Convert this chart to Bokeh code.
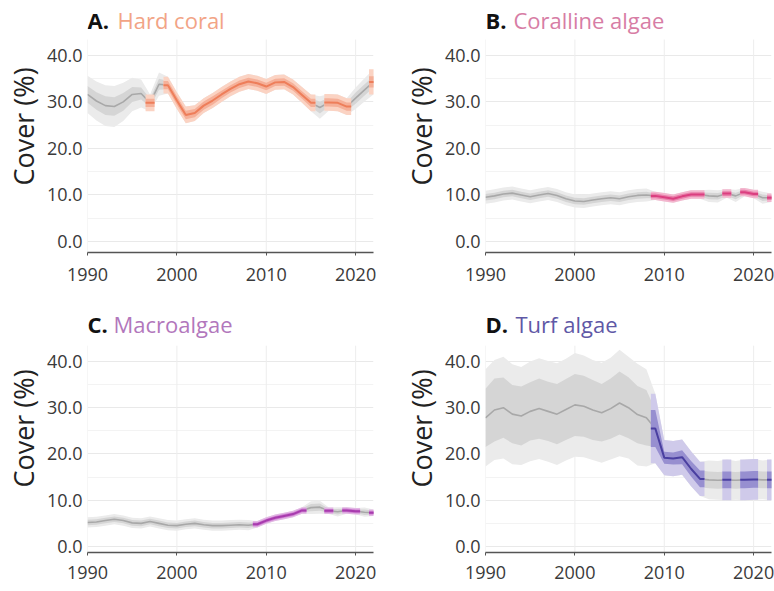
from bokeh.plotting import figure
from bokeh.layouts import column, row
from bokeh.models import FixedTicker, NumeralTickFormatter, Range1d
from bokeh.core.properties import value
from bokeh.embed import file_html
from bokeh.resources import INLINE

years = list(range(1990, 2023))

# ---- A. Hard coral ----
coral_mean = [31.6, 30.2, 29.2, 29.0, 30.0, 31.6, 31.8, 29.8, 33.8, 33.6, 30.3, 27.2, 27.6,
              29.2, 30.3, 31.6, 32.8, 33.8, 34.4, 34.0, 33.3, 34.2, 34.3, 33.2, 31.5, 29.8,
              28.8, 29.9, 29.8, 29.0, 30.8, 32.6, 34.3]
coral_inner = [1.8, 1.9, 2.0, 2.0, 1.9, 1.6, 1.3, 0.9, 1.2, 0.9, 0.9, 0.9, 0.9, 0.9, 0.9, 0.8,
               0.8, 0.8, 0.8, 0.8, 0.8, 0.8, 0.8, 0.8, 0.8, 0.9, 1.3, 0.9, 0.9, 0.9, 1.2, 1.2, 1.2]
coral_outer = [4.0, 4.2, 4.4, 4.4, 4.1, 3.6, 3.0, 1.8, 2.5, 1.8, 1.8, 1.8, 1.7, 1.6, 1.6, 1.6,
               1.6, 1.6, 1.6, 1.6, 1.6, 1.6, 1.6, 1.6, 1.7, 1.8, 2.4, 1.8, 1.8, 1.8, 2.3, 2.5, 2.7]
coral_data_years = [1997] + list(range(1999, 2016)) + [2017, 2018, 2019, 2022]

# ---- B. Coralline algae ----
cca_mean = [9.5, 9.8, 10.2, 10.4, 10.0, 9.6, 10.0, 10.3, 9.9, 9.2, 8.7, 8.6, 8.9, 9.2, 9.4,
            9.2, 9.6, 9.9, 10.0, 9.8, 9.5, 9.2, 9.7, 10.1, 10.1, 9.8, 9.7, 10.3, 9.8, 10.6,
            10.2, 9.4, 9.4]
cca_inner = [0.7] * 19 + [0.5] * 6 + [0.7, 0.7, 0.5, 0.7, 0.5, 0.5, 0.7, 0.5]
cca_outer = [1.4] * 19 + [0.9] * 6 + [1.3, 1.3, 0.9, 1.3, 0.9, 0.9, 1.3, 0.9]
cca_data_years = list(range(2009, 2015)) + [2017, 2019, 2020, 2022]

# ---- C. Macroalgae ----
macro_mean = [5.2, 5.3, 5.6, 5.9, 5.6, 5.1, 5.0, 5.4, 5.0, 4.6, 4.5, 4.8, 5.0, 4.7, 4.5,
              4.5, 4.6, 4.7, 4.6, 4.8, 5.6, 6.2, 6.6, 7.0, 7.8, 8.4, 8.5, 7.7, 7.5, 7.8,
              7.6, 7.4, 7.3]
macro_inner = [0.6] * 19 + [0.4] * 6 + [0.8, 0.8, 0.4, 0.6, 0.4, 0.4, 0.6, 0.4]
macro_outer = [1.1] * 19 + [0.7] * 6 + [1.4, 1.4, 0.7, 1.0, 0.7, 0.7, 1.0, 0.7]
macro_data_years = list(range(2009, 2015)) + [2017, 2019, 2020, 2022]

# ---- D. Turf algae ----
turf_mean = [27.8, 29.5, 30.0, 28.6, 28.2, 29.2, 29.8, 29.2, 28.6, 29.6, 30.6, 30.3, 29.5,
             28.9, 29.8, 31.0, 30.0, 28.5, 27.8, 25.5, 19.2, 19.0, 19.3, 16.8, 14.6, 14.4,
             14.3, 14.4, 14.3, 14.4, 14.5, 14.4, 14.4]
turf_inner = [6.3, 6.8, 6.5, 6.3, 6.4, 6.3, 6.5, 6.4, 6.5, 6.6, 6.7, 6.6, 6.5, 6.2, 6.5,
              6.8, 6.6, 6.2, 6.0, 4.0, 1.3, 1.3, 1.5, 1.7, 1.8, 1.8, 1.8, 1.8, 1.8, 1.8,
              1.8, 1.8, 1.8]
turf_outer = [10.5, 10.8, 11.0, 10.8, 10.6, 10.8, 10.9, 10.9, 11.0, 11.0, 11.2, 11.0, 10.8,
              10.8, 11.0, 11.5, 11.0, 11.0, 10.5, 7.5, 3.8, 3.8, 3.8, 3.8, 3.7, 4.2, 4.2,
              4.4, 4.2, 4.4, 4.4, 4.2, 4.4]
turf_data_years = list(range(2009, 2015)) + [2017, 2019, 2020, 2022]

y_ticks = [0, 10, 20, 30, 40]
y_minor = [5, 15, 25, 35]
x_ticks = [1990, 2000, 2010, 2020]

FONT = "Open Sans"
GRAY = {"outer": "#EBEBEB", "inner": "#D5D5D5", "line": "#A8A8A8"}


def runs(yrs):
    groups, cur = [], [yrs[0]]
    for y in yrs[1:]:
        if y == cur[-1] + 1:
            cur.append(y)
        else:
            groups.append(cur)
            cur = [y]
    groups.append(cur)
    return groups


def make_panel(letter, name, mean, inner, outer, data_years, cols, title_color,
               name_dx, ylo, yhi, title_y, frame_h, border_bottom, border_right, x_standoff):
    p = figure(frame_width=286, frame_height=frame_h,
               x_range=Range1d(1990, 2022), y_range=Range1d(ylo, yhi),
               output_backend="svg", toolbar_location=None,
               min_border_top=0, min_border_bottom=border_bottom,
               min_border_left=87, min_border_right=border_right)
    p.outline_line_color = None
    p.background_fill_color = "white"

    # vertical grid lines (stop below the title area)
    p.segment(x0=x_ticks, x1=x_ticks, y0=[ylo] * len(x_ticks), y1=[43.4] * len(x_ticks),
              line_color="#EDEDED", line_width=1)

    # gray model everywhere
    p.varea(x=years, y1=[m - o for m, o in zip(mean, outer)],
            y2=[m + o for m, o in zip(mean, outer)], fill_color=GRAY["outer"])
    p.varea(x=years, y1=[m - i for m, i in zip(mean, inner)],
            y2=[m + i for m, i in zip(mean, inner)], fill_color=GRAY["inner"])
    p.line(x=years, y=mean, line_color=GRAY["line"], line_width=1.6)

    # coloured segments for years with data
    for grp in runs(data_years):
        idx = [years.index(y) for y in grp]
        xs = [grp[0] - 0.5] + grp + [grp[-1] + 0.5]
        idx = [idx[0]] + idx + [idx[-1]]
        m = [mean[k] for k in idx]
        lo_o = [mean[k] - outer[k] for k in idx]
        hi_o = [mean[k] + outer[k] for k in idx]
        lo_i = [mean[k] - inner[k] for k in idx]
        hi_i = [mean[k] + inner[k] for k in idx]
        p.varea(x=xs, y1=lo_o, y2=hi_o, fill_color=cols[0])
        p.varea(x=xs, y1=lo_i, y2=hi_i, fill_color=cols[1])
        p.line(x=xs, y=m, line_color=cols[2], line_width=2.0)

    # axes
    p.yaxis.ticker = FixedTicker(ticks=y_ticks, minor_ticks=y_minor)
    p.xaxis.ticker = FixedTicker(ticks=x_ticks)
    p.yaxis.formatter = NumeralTickFormatter(format="0.0")
    p.yaxis.axis_label = "Cover (%)"
    p.yaxis.axis_label_text_font = FONT
    p.yaxis.axis_label_text_font_size = "27px"
    p.yaxis.axis_label_text_font_style = "normal"
    p.yaxis.axis_label_text_color = "#222222"
    p.yaxis.axis_label_standoff = 2
    p.yaxis.axis_line_color = None
    p.yaxis.major_tick_line_color = None
    p.yaxis.minor_tick_line_color = None
    p.yaxis.major_tick_out = 0
    p.yaxis.major_tick_in = 0
    p.yaxis.minor_tick_out = 0
    p.yaxis.minor_tick_in = 0
    p.yaxis.major_label_standoff = 5
    for ax in (p.xaxis, p.yaxis):
        ax.major_label_text_font = FONT
        ax.major_label_text_font_size = "18px"
        ax.major_label_text_color = "#3a3a3a"
    p.xaxis.axis_line_color = "#555555"
    p.xaxis.axis_line_width = 1.4
    p.xaxis.major_tick_line_color = "#555555"
    p.xaxis.major_tick_out = 3
    p.xaxis.major_tick_in = 0
    p.xaxis.minor_tick_line_color = None
    p.xaxis.minor_tick_out = 0
    p.xaxis.major_label_standoff = x_standoff

    # grids
    p.ygrid.grid_line_color = "#E9E9E9"
    p.ygrid.minor_grid_line_color = "#F3F3F3"
    p.xgrid.grid_line_color = None

    # two-coloured title inside the top of the frame
    p.text(x=[1990], y=[title_y], text=[letter], text_font=value(FONT),
           text_font_style="bold", text_font_size="22px", text_color="#111111",
           text_baseline="alphabetic", text_align="left")
    p.text(x=[1990], y=[title_y], text=[name], x_offset=name_dx, text_font=value(FONT),
           text_font_size="22px", text_color=title_color,
           text_baseline="alphabetic", text_align="left")
    return p


pA = make_panel("A.", "Hard coral", coral_mean, coral_inner, coral_outer, coral_data_years,
                ("#FBD3C3", "#F5B099", "#EE7E5A"), "#F2A486", 30,
                -2.37, 51.8, 47.7, 252, 52, 25, 12)
pB = make_panel("B.", "Coralline algae", cca_mean, cca_inner, cca_outer, cca_data_years,
                ("#F3B6CE", "#E980AB", "#DB3F80"), "#D77DA5", 28,
                -2.37, 51.8, 47.7, 252, 52, 3, 12)
pC = make_panel("C.", "Macroalgae", macro_mean, macro_inner, macro_outer, macro_data_years,
                ("#E2B6E4", "#CD7FD0", "#A83BAE"), "#B277BC", 26,
                -1.3, 52.3, 48.1, 248, 38, 25, 10)
pD = make_panel("D.", "Turf algae", turf_mean, turf_inner, turf_outer, turf_data_years,
                ("#CFCAEA", "#978FD0", "#4A3FA0"), "#5F58A6", 30,
                -1.3, 52.3, 48.1, 248, 38, 3, 10)

layout = column(row(pA, pB), row(pC, pD))

with open("out.html", "w") as f:
    f.write(file_html(layout, INLINE))
